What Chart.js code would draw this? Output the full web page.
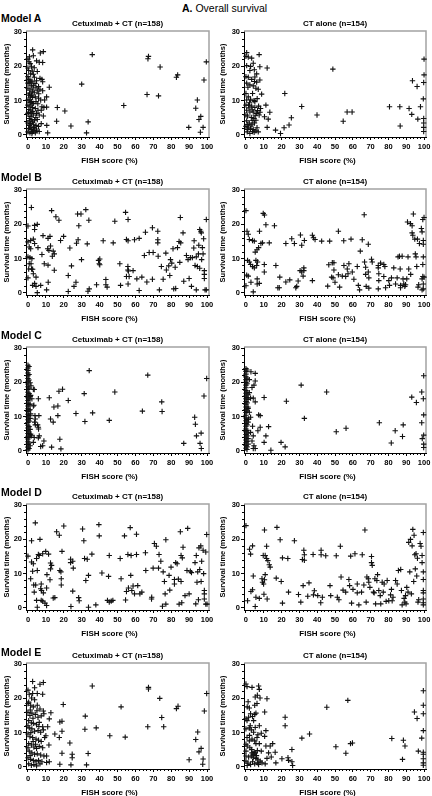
<!DOCTYPE html>
<html>
<head>
<meta charset="utf-8">
<script src="https://cdn.jsdelivr.net/npm/chart.js@4.4.1/dist/chart.umd.min.js"></script>
<style>
  body { margin: 0; background: #fff; }
  #page { position: relative; width: 432px; height: 796px; overflow: hidden; background: #fff;
          font-family: "Liberation Sans", Arial, Helvetica, sans-serif; color: #000; }
  .lbl { position: absolute; white-space: nowrap; }
  canvas { position: absolute; }
</style>
</head>
<body>
<div id="page">
  <div class="lbl" style="left:182px; top:2px; font-size:10.5px; line-height:12px;"><b>A.</b> Overall survival</div>
</div>
<script>
// Survival vs FISH score, 5 models x 2 arms

const modelNames = ["Model A", "Model B", "Model C", "Model D", "Model E"];
const armTitles = ["Cetuximab + CT (n=158)", "CT alone (n=154)"];
const xTitle = "FISH score (%)";
const yTitle = "Survival time (months)";

// [FISH score, survival months]
const aCet = [
  [2.6,24.8],[6.9,23.9],[8.6,24.3],[3.0,23.1],[4.8,21.6],[6.3,21.2],[8.2,21.1],[0,22.1],[0.6,21.3],[2.0,19.9],
  [3.5,19.6],[0.4,18.8],[1.5,17.8],[3.0,17.7],[0,17.0],[1.1,16.0],[2.2,15.7],[4.8,15.8],[6.7,16.5],[7.8,16.2],
  [8.2,15.5],[0.7,15.1],[1.9,14.3],[3.0,14.5],[4.5,13.9],[5.9,14.1],[0,13.6],[1.1,13.1],[2.4,12.6],[3.5,12.3],
  [5.2,12.9],[6.7,13.3],[8.2,12.9],[0.4,11.6],[1.5,11.1],[2.6,10.9],[4.1,11.1],[5.9,10.7],[7.1,10.2],[0.7,10.2],
  [1.9,9.7],[3.0,9.2],[4.5,9.7],[0,8.7],[1.1,8.4],[2.6,8.0],[4.1,7.7],[5.6,7.2],[7.4,7.2],[8.9,8.0],
  [0.4,6.5],[1.9,6.3],[3.0,5.8],[4.8,6.3],[6.3,5.8],[0.7,4.8],[2.2,4.5],[3.7,4.3],[5.2,4.5],[0,3.5],
  [1.5,3.3],[3.0,3.1],[4.5,2.8],[5.9,2.5],[7.4,3.3],[0.4,1.9],[1.9,1.6],[3.0,1.2],[4.8,1.4],[6.3,1.0],
  [1.1,0.6],[2.2,0.4],[4.1,0.6],[0,0.9],[1.5,2.3],[3.3,2.2],[0,6.3],[0,10.2],[0,15.1],[0,19.5],
  [8.6,5.5],[7.8,8.2],[5.2,18.5],[9.3,10.2],[0.8,22.8],[1.2,20.8],[2.4,18.6],[0.2,16.2],[1.6,15.4],[2.8,13.4],
  [0.9,12.2],[2.0,11.6],[1.3,9.5],[2.2,9.0],[0.5,7.4],[1.6,7.2],[2.6,6.8],[1.2,5.4],[2.5,3.8],[0.8,2.8],
  [2.6,0.9],[3.8,1.8],[4.4,5.1],[5.5,9.1],[6.0,12.0],[3.9,15.0],[3.6,16.8],[1.0,4.1],
  [16.4,8.0],[20.6,7.0],[16,4],[24,2.6],[30,14.8],[32.7,0.6],[33.6,3.8],[35.9,23.4],[53.5,8.6],[67,22.2],
  [67.3,22.9],[66.5,11.8],[72.9,11.4],[73.8,19.8],[82.9,16.8],[83.6,17.5],[89.8,2.2],[93.7,7.8],[94.6,10.2],[95.5,4.5],
  [96.5,5.4],[96.3,0.8],[97.8,2.2],[98.3,16],[99.6,21.3],[11.9,13.9],[10.4,11.1],[11,0.6],[10.5,2.8],[10.4,8.1]
];
const aCt = [
  [0.4,24.0],[7.4,23.4],[11.9,19.5],[7.8,19.9],[48.8,19.2],[93.5,15.8],[96.1,14.1],[100,22.1],[100,17.5],[99.8,15.3],
  [99.6,10.5],[98,8.2],[96.5,4.6],[99.8,4.8],[99.8,3.5],[99.8,2.2],[99.8,1.0],[93.1,6.0],[91.6,7.7],[86.4,8.2],
  [80.6,8.2],[86.6,2.6],[59.6,6.7],[56.8,6.7],[54.6,4.0],[39.9,5.8],[31.3,8.3],[25.5,5.0],[24.2,2.9],[21.4,2.1],
  [19.4,0.4],[16.6,1.4],[21.8,12.1],[13.4,6.6],[12.5,4.6],[11.9,2.2],[10.4,5.3],[11.2,8.7],[8.8,11.9],
  [0,22.9],[1.3,22.7],[3.2,22.4],[4.1,20.9],[0.4,20.2],[2.2,18.8],[4.7,19.0],[6,17.8],[1.3,16.8],[3.2,16.2],
  [4.8,15.6],[6,15.4],[7.8,16.0],[0.4,15.1],[2.2,14.6],[4.1,14.3],[5.6,13.6],[1.3,11.1],[0.4,10.2],[2.6,10.4],
  [4.5,10.0],[1.5,8.7],[3.2,8.4],[5,8.0],[7.1,8.4],[8.2,7.7],[0.4,7.2],[2.2,6.7],[4.1,6.7],[6,6.3],
  [7.4,5.8],[0.9,5.5],[3,5.1],[4.5,4.8],[5.6,4.3],[0.4,4.1],[1.9,3.5],[3.4,3.1],[4.8,3.5],[0,2.5],
  [1.3,2.1],[2.6,1.8],[4.1,1.6],[5.6,1.2],[6.9,0.9],[0.7,0.9],[2.2,0.4],[3.7,1.0],[0,5.8],[0,8.7],
  [0,12.1],[0,17.0],[5,9.7],[6.3,10.6],[3.7,12.1],[6.9,13.3],[1.7,7.9],[1.0,3.0],[2.8,2.6],[3.9,4.2],
  [5.2,5.6],[2.0,9.4],[3.5,7.3],[1.1,13.9],[5.0,16.9],[2.6,20.0],[6.5,7.1],[7.9,6.6],[0.8,1.6],[4.6,0.8],[6.2,2.1]
];
const bCet = [
  [1.9,24.9],[0,19.5],[3.7,19.7],[5.2,20.0],[3.7,18.5],[0,14.9],[1.5,15.3],[3.0,15.7],[0.7,13.4],[1.5,12.9],
  [3.7,14.4],[5.6,13.2],[8.4,16.7],[11.2,15.9],[12.3,16.5],[11,12.9],[11.7,12.4],[12.6,13.7],[14.1,12.2],[14.7,11.4],
  [13.6,10.7],[7.8,11.2],[0,10.5],[1.1,10.3],[2.2,10.0],[0.7,8.5],[1.7,8.5],[0.4,7.0],[2,7.0],[2.6,6.9],
  [3,5.6],[4.5,4.6],[3.7,2.8],[2.6,2.2],[4.5,1.9],[5.2,0.1],[7.1,2.2],[9.1,8.5],[11.2,8.1],[10.4,0.9],
  [11.3,3.1],[14.7,6.6],[13.2,24.0],[15.6,22.2],[17.3,21.2],[19.9,16.5],[18.2,15.3],[22.5,5.1],[22.5,0.4],[23.4,13.1],
  [24.3,7.9],[25.7,1.9],[26.8,3.1],[27.1,14.5],[28,15.5],[27.7,23.0],[29.6,23.0],[28.4,19.6],[29.9,9.7],[32.3,24.3],
  [33.1,14.3],[34,21.2],[33.5,0.5],[34.2,1.2],[38.3,2.4],[39.4,9.5],[39.8,8.5],[40.1,9.9],[40.1,8.2],[42,15.2],
  [43.5,3.9],[43.5,2.4],[44.2,1.7],[47.6,14.6],[48.5,20.9],[51.3,8.5],[51.7,2.2],[54.5,23.5],[55,15.6],[55.9,15.2],
  [55.9,21.4],[55,4.8],[56.5,4.8],[55.8,6.7],[55.8,7.7],[56.1,6.4],[55.9,2.6],[58.7,6.5],[59.5,15.5],[60.8,4.1],
  [62.1,15.9],[62.1,0.7],[63.6,4.6],[65,10.9],[65.6,17.7],[66.4,3.2],[67.7,11.8],[69.9,11.8],[69.5,19.0],[69.5,4.0],
  [72.5,18.0],[72.5,15.5],[72.5,14.6],[72.7,10.7],[73.4,0.9],[74.5,7.7],[75.5,4.0],[77,11.6],[77.3,6.7],[78.6,7.9],
  [79.2,5.1],[79.6,9.7],[80.3,8.7],[81.4,1.2],[82.5,1.3],[81,12.9],[82.2,7.5],[83.5,13.2],[84.4,15.0],[85.3,14.6],
  [84.8,8.9],[85.1,22.0],[86.6,17.5],[87,3.4],[88.5,10.9],[89.4,9.7],[90,4.2],[90.7,10.3],[91.3,1.9],[91.8,10.3],
  [92.6,13.1],[92.8,15.2],[93.3,8.0],[94,0.9],[94.6,7.7],[95.2,11.4],[94,10.5],[95.4,13.9],[95.9,18.5],[96.5,18.0],
  [96.8,17.5],[95.9,7.2],[97,9.7],[97.4,13.2],[97.8,11.4],[98.1,15.8],[98.5,6.5],[98.5,5.4],[98.5,4.2],[98.9,0.9],
  [99.6,0.9],[99.6,21.4],[0,4.4]
];
const bCt = [
  [0,24.0],[0.6,18.0],[1.3,17.1],[1.9,15.6],[3.7,15.3],[4.7,15.1],[0,2.1],[0.4,5.2],[1.3,4.9],[0.9,9.5],
  [1.9,9.0],[2.6,8.3],[3.7,7.7],[4.7,7.3],[2.8,3.1],[4.1,0.3],[5.2,11.9],[6.2,12.6],[7.1,13.2],[5.6,9.5],
  [6.5,9.0],[6.0,8.0],[6.3,4.1],[6.3,2.6],[7.5,2.8],[7.6,18.0],[8.4,14.4],[9.3,14.6],[10.3,8.3],[10.3,6.1],
  [9.7,23.2],[10.4,22.7],[11.2,19.9],[13.1,14.6],[16,19.6],[16.8,8.0],[17.9,1.5],[18.7,1.5],[19,4.6],[22.4,14.4],
  [22.4,3.2],[24.6,3.8],[25.7,15.8],[27.2,14.4],[28,1.5],[28.5,1.9],[29.3,3.5],[30.4,6.5],[31.3,6.1],[30.6,16.9],
  [31.3,13.9],[32.8,15.3],[32.5,7.3],[32.5,6.5],[32.1,4.9],[37.3,16.8],[37.9,16.1],[37.3,3.6],[38.8,15.6],[42.5,15.1],
  [45.9,2.0],[46.5,8.2],[47,15.1],[48.1,4.6],[48.9,4.4],[48.5,8.8],[49.4,8.8],[49.4,6.7],[50,3.1],[51.9,18.0],
  [51.9,5.3],[52.6,1.7],[54.1,4.9],[54.9,15.2],[55,8.0],[56,4.8],[56.9,7.0],[57.3,5.6],[57.8,8.5],[59,15.7],
  [59.7,6.1],[60.6,4.0],[62.5,7.7],[63.1,2.2],[63.8,0.9],[64.2,12.2],[65.3,15.5],[66.4,22.8],[66.6,9.0],[67.2,7.5],
  [67.2,5.4],[67.5,1.9],[68.7,14.2],[68.7,6.1],[69,1.4],[69,4.4],[70.5,9.8],[70.9,9.0],[74.3,8.0],[74.3,7.3],
  [74.6,5.6],[74.6,3.6],[74.3,1.2],[75.6,8.7],[77.4,8.3],[78,7.7],[77.4,4.8],[78.4,1.5],[80.2,3.6],[80.6,2.2],
  [81.7,4.4],[83,7.3],[84,2.6],[84.9,4.4],[85.4,10.5],[86.2,10.7],[86.6,7.0],[86.8,2.2],[86.8,1.5],[87.7,10.7],
  [88.2,4.1],[88.6,2.6],[89.6,2.4],[89.2,1.9],[90.3,4.1],[90.7,20.7],[92.4,20.2],[91,10.5],[91.4,7.0],[92.5,5.4],
  [93.3,17.5],[93.7,16.8],[94,23.0],[93.3,19.6],[94.8,15.7],[95.1,11.4],[95.5,10.5],[95.9,7.7],[96.3,15.7],[96.6,1.7],
  [97,2.4],[97.4,14.4],[98.5,18.8],[98.9,17.8],[99.3,21.4],[100,22.0],[99.6,15.3],[99.6,14.2],[99.6,10.5],[99.3,8.3],
  [99.3,4.8],[100,4.6],[98.9,4.1],[99.6,2.6],[99.6,1.2],[98.9,0.9]
];
const cCet = [
  [0,25.0],[0,24.2],[0,23.5],[0,22.7],[0,21.9],[0,21.1],[0,20.3],[0,19.5],[0,18.7],[0,17.9],
  [0,17.1],[0,16.3],[0,15.5],[0,14.7],[0,13.9],[0,13.1],[0,12.3],[0,11.5],[0,10.7],[0,9.9],
  [0,9.1],[0,8.3],[0,7.5],[0,6.7],[0,5.9],[0,5.1],[0,4.3],[0,3.5],[0,2.7],[0,1.9],[0,1.1],[0,0.3],
  [0.6,24.6],[0.6,22.3],[0.6,20.7],[0.6,18.3],[0.6,16.7],[0.6,15.1],[0.6,13.5],[0.6,11.9],[0.6,10.3],[0.6,8.7],
  [0.6,7.1],[0.6,5.5],[0.6,3.9],[0.6,2.3],[0.6,0.7],
  [1.2,19.9],[1.2,15.9],[1.2,13.7],[1.2,12.0],[1.2,9.5],[1.2,6.3],[1.2,4.7],[1.2,1.5],
  [1.7,19.0],[3,18.0],[3.5,17.9],[1.5,16.2],[2.2,15.2],[3,13.1],[3.3,13.3],[1.5,10.8],[3.9,10.3],[4.1,9.3],
  [3.7,8.4],[4.1,7.6],[3.5,3.9],[3,2.5],[1.9,4.4],[1.5,4.9],[6.1,10.3],[5.8,15.2],[5.4,7.6],[5.8,6.9],
  [5.9,6.4],[6.3,4.4],[5.8,3.8],[7.1,1.3],[8.2,1.5],[8.9,2.9],[11.9,15.5],[12.6,9.3],[13.2,1.1],[14.1,8.4],
  [14.5,12.8],[16.7,13.1],[16.7,10.3],[17.3,17.4],[17.8,3.4],[18.4,0.6],[19.3,18.0],[22.5,14.7],[26.8,10.9],[31.4,16.7],
  [31.8,8.6],[34.2,23.4],[36.1,11.1],[45.4,8.9],[48.5,17.2],[63.9,11.6],[66.9,22.1],[74.7,14.3],[74.9,11.5],[87,2.2],
  [93.1,9.8],[93.5,7.8],[94.1,4.4],[96.1,2.2],[96.7,5.2],[96.8,0.7],[98.3,16.0],[99.8,21.1]
];
const cCt = [
  [0,24.0],[0,23.2],[0,22.4],[0,21.6],[0,20.8],[0,20.0],[0,19.2],[0,18.4],[0,17.6],[0,16.8],
  [0,16.0],[0,15.2],[0,14.4],[0,13.6],[0,12.8],[0,12.0],[0,11.2],[0,10.4],[0,9.6],[0,8.8],
  [0,8.0],[0,7.2],[0,6.4],[0,5.6],[0,4.8],[0,4.0],[0,3.2],[0,2.4],[0,1.6],[0,0.8],
  [0.6,23.6],[0.6,21.2],[0.6,19.6],[0.6,17.2],[0.6,15.6],[0.6,14.0],[0.6,11.6],[0.6,9.2],[0.6,7.6],[0.6,6.0],
  [0.6,4.4],[0.6,2.8],[0.6,1.2],[0.6,0.4],
  [1.2,16.4],[1.2,15.0],[1.2,12.4],[1.2,8.4],[1.2,5.2],[1.2,3.6],[1.2,2.0],
  [1.9,20.8],[2.8,23.1],[4.5,19.2],[5.2,22.6],[5.2,20.4],[3.4,18.5],[1.9,17.0],[2.6,15.4],[4.1,15.4],[5.2,14.3],
  [1.1,12.8],[1.9,11.3],[2.6,9.8],[1.5,9.3],[7.1,10.5],[8,10.3],[8,6.9],[6.7,5.9],[3.7,7.2],[2.6,5.4],
  [4.1,4.4],[3.4,2.9],[4.5,1.5],[4.1,0.7],[5.2,0.7],[10.2,15.6],[10.2,2.5],[11.2,4.4],[12.7,7.1],[14,0.2],
  [19.7,2.5],[22,1.2],[22.7,14.5],[31,19.2],[32.8,9.5],[45.3,17.2],[50.7,5.6],[56.2,6.6],[74.9,8.2],[81.6,2.3],
  [83.8,5.9],[87.9,4.2],[88.3,7.6],[93.1,15.7],[95.7,14.1],[98.7,17.2],[98.7,8.2],[99,3.6],[99.6,15.2],[99.8,21.9],
  [99.8,10.5],[99.8,4.6],[99.8,2.0],[99.8,1.0]
];
const dCet = [
  [0,15.1],[2,19.6],[2,13.4],[3,12.9],[2.6,10.7],[1.5,8.5],[3.2,6.7],[4.3,6.7],[3.5,4.6],[4.1,24.8],
  [4.8,2.2],[4.8,14.4],[5.8,15.6],[6.3,15.3],[5.2,0.2],[5.2,10.9],[6.7,20.0],[7.4,7.0],[7.1,5.6],[7.6,5.1],
  [7.4,2.2],[8.2,2.0],[8.2,15.8],[8.6,4.4],[9.5,1.4],[9.9,16.5],[10.4,5.8],[10.6,9.7],[10.4,0.7],[11.5,15.7],
  [12.3,8.2],[12.6,13.1],[13.2,12.4],[12.6,11.4],[14.1,2.9],[15,3.0],[16,22.2],[17.5,21.2],[17.8,10.9],[18.4,10.5],
  [18.6,6.7],[19,16.5],[18.6,8.5],[20,23.9],[23.8,14.2],[23.8,13.2],[25,13.6],[24,0.4],[25,4.9],[25.3,11.6],
  [28.3,3.0],[28.6,2.1],[30.5,23.0],[31.2,19.6],[31.6,14.4],[33.1,14.2],[32.3,8.0],[33.8,9.5],[33.8,0.2],[35.7,15.7],
  [37.9,0.9],[39.6,24.3],[39.8,21.0],[41.3,10.2],[44.4,2.2],[45.4,1.7],[46.5,2.0],[45.4,15.3],[45,9.2],[47.4,2.2],
  [51.5,14.4],[52,8.5],[53.9,21.0],[54.5,2.3],[55,4.8],[55.8,15.6],[56.1,5.8],[57.1,23.4],[57.4,9.5],[57.6,15.3],
  [58,5.1],[58.7,6.4],[59.5,4.1],[60.6,15.6],[60.6,21.5],[61.3,6.5],[62.5,4.1],[63.6,4.6],[65.6,16.1],[65.8,10.9],
  [69,2.6],[69.1,3.1],[69.9,11.6],[70.6,18.8],[71.7,18.0],[72.9,11.6],[73.2,15.6],[74.2,13.6],[75.1,0.5],[75.5,10.5],
  [76.2,7.7],[76.6,4.1],[77,19.9],[77,1.1],[78.8,9.5],[79.2,5.2],[79.9,11.9],[81.8,8.3],[81.8,7.0],[82.5,13.2],
  [83.3,12.9],[84,8.4],[84.4,1.1],[85.1,22.2],[85.5,15.3],[86.2,14.6],[85.5,7.7],[85.9,1.5],[86.6,17.7],[87.7,3.6],
  [88.8,10.9],[89.2,23.2],[90,4.1],[90.7,10.7],[91.3,10.3],[93.3,13.2],[93.7,1.2],[94,15.3],[94.4,7.5],[94.8,10.5],
  [95.2,2.4],[95.5,17.5],[96.5,18.1],[95.9,11.2],[96.7,7.7],[97,13.6],[97.8,16.8],[98.1,10.0],[98.5,5.1],[98.5,4.1],
  [98.5,2.6],[99.3,16.3],[99.3,1.1],[100,1.1],[99.8,21.4]
];
const dCt = [
  [0,24.0],[0.9,2.1],[2,17.1],[2.6,15.7],[3.7,18.1],[2.8,4.8],[3.7,5.3],[4.1,9.3],[5.2,0.4],[5.6,3.1],
  [7.5,2.8],[9,8.5],[9.3,7.5],[9.9,7.0],[10.4,8.2],[9.7,15.3],[10.8,15.3],[10.4,22.7],[10.8,9.7],[10.1,4.0],
  [11.6,18.0],[11.6,14.4],[12.3,13.8],[13.1,12.6],[13.6,11.9],[11.9,2.6],[17.4,23.5],[17,8.7],[19.2,19.9],[19.8,7.7],
  [20.5,1.4],[20.5,14.6],[23.5,14.4],[23.9,4.6],[27.2,19.6],[29.5,3.9],[30.8,1.7],[31.7,14.1],[32.8,13.9],[32.5,16.8],
  [32.8,15.5],[32.1,6.5],[34.7,3.4],[35.4,7.3],[37.7,15.6],[38.4,5.0],[37.9,3.8],[40.3,3.6],[42,1.5],[42.2,16.8],
  [42.2,15.5],[42.9,3.1],[44.8,15.2],[47.2,6.5],[47.6,3.6],[50.7,15.2],[51.3,3.1],[52.2,2.4],[53,18.0],[53.4,9.0],
  [54.5,5.2],[56,4.6],[57.8,8.3],[58.2,6.5],[58.8,15.1],[59.3,1.4],[60.1,5.4],[61.2,15.8],[62.5,4.4],[62.5,7.0],
  [63.4,0.9],[65.3,15.5],[64.9,4.6],[66.2,6.7],[66.8,22.7],[67.5,1.7],[67.9,9.0],[68.7,8.5],[69,7.5],[69.6,6.0],
  [70.5,15.0],[70.5,13.2],[70.9,12.4],[71.6,4.6],[72,4.4],[72.4,8.5],[72.8,1.2],[73.5,8.0],[73.9,9.7],[74.6,5.1],
  [75.4,3.6],[75.7,1.2],[76.5,7.5],[77.1,4.6],[77.6,7.0],[78.7,1.9],[79.3,8.0],[80.2,2.1],[81.2,3.8],[81.7,5.4],
  [82.1,2.1],[82.6,3.1],[84,8.0],[84.9,7.0],[85.6,10.9],[86.9,11.2],[87.3,5.1],[87.7,0.9],[88.8,2.8],[89.2,1.7],
  [89.6,3.6],[89.9,1.2],[90.3,6.0],[91,4.6],[91.4,19.1],[92,10.5],[92.4,20.0],[92.9,4.1],[93.3,18.1],[93.7,22.9],
  [94.4,21.2],[94.2,7.7],[94.8,15.5],[95.1,11.4],[95.5,15.8],[95.9,9.3],[96.3,14.5],[96.6,1.7],[97,2.4],[97.8,18.8],
  [98.3,18.0],[98.9,15.3],[98.9,13.2],[99.6,22.0],[99.6,10.5],[99.6,8.3],[99.6,5.1],[99.6,4.4],[99.6,2.6],[99.6,1.5],
  [99.6,0.9]
];
const eCet = [
  [2.6,24.9],[3.7,23.1],[2.6,21.4],[6.7,24.1],[8.6,24.6],[8.2,21.2],[5.2,21.4],[0,22.4],[0.7,21.2],[2,20.1],
  [3.7,19.6],[0.4,18.9],[1.5,18.0],[3,17.5],[5.2,18.0],[6.7,16.9],[8.6,16.3],[0,15.9],[1.1,15.0],[2.2,15.7],
  [4.1,15.3],[5.6,14.5],[7.4,14.9],[8.9,15.5],[0.4,13.5],[1.9,12.9],[3,12.7],[4.8,12.3],[6.3,13.0],[8.2,11.7],
  [0.7,11.4],[2.2,11.1],[3.7,10.4],[5.6,10.6],[7.1,10.1],[8.6,10.8],[10,9.1],[0,9.6],[1.1,8.8],[2.6,8.6],
  [4.5,8.1],[5.9,7.8],[7.4,7.4],[9.3,8.6],[0.4,6.8],[1.9,6.4],[3.3,5.8],[4.8,5.4],[6.3,6.0],[8.2,5.6],
  [0.7,4.6],[2.2,4.1],[3.7,3.7],[5.2,3.8],[7.1,3.5],[8.9,3.2],[0,2.7],[1.5,2.2],[3,1.9],[4.5,1.5],
  [5.9,1.9],[7.8,1.5],[0.4,0.9],[1.9,0.5],[3.3,0.7],[4.8,0.3],[6.7,0.9],[0,5.6],[0,12.0],[0,18.5],
  [1.3,16.6],[2.8,14.2],[1.6,10.0],[2.9,7.4],[1.2,3.3],[4.2,6.6],[6.1,11.8],[5.0,16.4],
  [17.8,13.1],[19,13.3],[17.5,8.6],[19,10.4],[19.7,18.2],[19,4.0],[17.8,0.8],[23.4,7.0],[24.7,3.7],[24.7,2.7],
  [24,0.6],[32,14.8],[31.8,11.0],[32.7,0.6],[33.6,3.9],[35.9,23.6],[38.1,11.4],[45.7,9.1],[52,17.5],[54.3,8.7],
  [67.3,22.7],[67.3,23.2],[66.9,11.7],[73.6,20.0],[74.7,14.4],[75.8,11.7],[82.9,17.0],[83.8,17.7],[90,2.1],[93.7,8.0],
  [94.8,10.2],[95.5,4.4],[96.7,5.4],[97.8,2.3],[97.6,0.8],[98.5,16.3],[99.8,21.4],[15,9.6],[12.8,15.8],[11.9,14.0],
  [11,11.7],[11.7,6.4],[11.9,1.5],[10.4,1.3],[10.4,3.2]
];
const eCt = [
  [22,14.5],[22,12.0],[23.6,2.7],[23.9,1.9],[25.8,1.5],[25.8,5.1],[26.2,0.4],[20.2,2.4],[16.8,1.2],[14.2,2.9],
  [16.4,4.3],[15,6.8],[13.6,6.1],[12.7,4.1],[11.2,6.1],[10.8,0.9],[11.8,2.5],[10.5,8.9],[11.2,10.6],[11.8,19.9],
  [10.5,16.0],[31.4,8.4],[35.7,9.6],[45.4,17.4],[50.5,5.9],[56.1,4.0],[57.2,19.4],[58.7,6.8],[59.8,7.0],[81.9,8.3],
  [87.9,2.2],[88.4,7.8],[89.3,6.1],[94.6,16.0],[96.1,14.1],[96.8,4.6],[98.7,8.4],[99.6,22.2],[99.6,18.0],[99.6,15.5],
  [99.6,10.6],[99.6,4.3],[99.6,3.7],[99.6,2.4],[99.6,1.2],[99.6,0.5],
  [0,24.2],[0.6,23.4],[3.4,23.2],[7.1,23.6],[7.5,22.6],[6.4,20.9],[5.2,20.4],[7.9,20.1],[0.7,17.5],[1.9,17.2],
  [2.6,15.5],[3.7,14.7],[4.9,15.3],[5.6,15.7],[6.2,18.5],[4.9,18.0],[1.5,14.5],[0.6,13.5],[1.9,11.4],[3,10.8],
  [4.3,10.1],[5.2,11.5],[7.5,12.0],[8.6,9.8],[6.7,9.4],[0.6,8.6],[1.9,7.6],[3.4,8.1],[4.9,7.6],[6.2,8.6],
  [5.6,6.8],[7.5,6.8],[0.7,6.1],[2.2,5.6],[3.4,4.1],[4.5,3.7],[5.2,4.1],[6.4,4.8],[8.6,4.6],[0,3.2],
  [1.5,2.9],[3,3.2],[4.1,2.7],[5.6,2.5],[6.7,2.1],[8,1.7],[9,1.2],[0,1.7],[1.1,1.1],[0.7,0.4],
  [2.6,0.7],[3.7,1.5],[4.9,0.9],[6.4,1.2],[7.1,0.7],[0,11.1],[0,14.0],[0,6.6],[0,4.6],[2.4,12.0],
  [4.3,13.5],[3.9,3.5],[4.6,4.4],[3.2,5.1],[5.9,3.3],[2.0,9.2],[1.2,19.0]
];

const panelData = [[aCet, aCt], [bCet, bCt], [cCet, cCt], [dCet, dCt], [eCet, eCt]];

// placement on the page
const canvasTops = [0, 158, 316, 473, 632];
const modelLabelY = [18, 177, 335, 492, 652];
const fontFamily = "'Liberation Sans', Arial, Helvetica, sans-serif";

Chart.defaults.font.family = fontFamily;
Chart.defaults.color = "#000";

const page = document.getElementById("page");

// gray top/right frame + minor ticks
const framePlugin = {
  id: "frame",
  beforeDatasetsDraw(chart) {
    const { ctx, chartArea: a, scales: { x, y } } = chart;
    ctx.save();
    ctx.strokeStyle = "#a3a3a3";
    ctx.lineWidth = 1.5;
    ctx.beginPath();
    ctx.moveTo(a.left, a.top);
    ctx.lineTo(a.right, a.top);
    ctx.lineTo(a.right, a.bottom);
    ctx.stroke();

    ctx.strokeStyle = "#000";
    ctx.lineWidth = 1;
    ctx.beginPath();
    for (let v = 2; v < 100; v += 2) {
      if (v % 10 === 0) continue;
      const px = Math.round(x.getPixelForValue(v)) + 0.5;
      ctx.moveTo(px, a.bottom);
      ctx.lineTo(px, a.bottom + 2);
    }
    for (let v = 2; v < 30; v += 2) {
      if (v % 10 === 0) continue;
      const py = Math.round(y.getPixelForValue(v)) + 0.5;
      ctx.moveTo(a.left, py);
      ctx.lineTo(a.left - 2, py);
    }
    ctx.stroke();
    ctx.restore();
  }
};

function addLabel(text, left, top, css) {
  const el = document.createElement("div");
  el.className = "lbl";
  el.textContent = text;
  el.style.left = left + "px";
  el.style.top = top + "px";
  el.style.cssText += css;
  page.appendChild(el);
}

function makePanel(row, col, points) {
  const canvas = document.createElement("canvas");
  canvas.width = 216;
  canvas.height = 168;
  canvas.style.left = (col * 216) + "px";
  canvas.style.top = canvasTops[row] + "px";
  page.appendChild(canvas);

  const yWidth = col === 0 ? 26 : 28;
  const rightPad = col === 0 ? 7 : 6;
  const tickFont = { family: fontFamily, size: 7.5, weight: "bold" };

  new Chart(canvas, {
    type: "scatter",
    data: {
      datasets: [{
        data: points.map(p => ({ x: p[0], y: p[1] })),
        pointStyle: "cross",
        pointRadius: 2.7,
        borderColor: "#111",
        backgroundColor: "#111",
        borderWidth: 1.1,
        clip: false
      }]
    },
    options: {
      responsive: false,
      animation: false,
      devicePixelRatio: 1,
      events: [],
      layout: { padding: { left: 0, right: rightPad, top: 0, bottom: 0 } },
      scales: {
        x: {
          type: "linear",
          min: -1.1,
          max: 101.1,
          afterFit: s => { s.height = 31; s.paddingLeft = 0; s.paddingRight = 0; },
          ticks: { stepSize: 10, includeBounds: false, autoSkip: false, maxRotation: 0, padding: 2, color: "#000", font: tickFont },
          grid: { drawOnChartArea: false, tickLength: 3, color: "#000" },
          border: { display: true, color: "#000", width: 1 }
        },
        y: {
          type: "linear",
          min: -0.6,
          max: 30.3,
          afterFit: s => { s.width = yWidth; s.paddingTop = 0; s.paddingBottom = 0; },
          ticks: { stepSize: 10, includeBounds: false, padding: 1, color: "#000", font: tickFont },
          grid: { drawOnChartArea: false, tickLength: 3, color: "#000" },
          border: { display: true, color: "#000", width: 1 },
          title: {
            display: true,
            text: yTitle,
            color: "#000",
            font: { family: fontFamily, size: 7.5, weight: "bold" },
            padding: { top: 2.3, bottom: 0 }
          }
        }
      },
      plugins: {
        legend: { display: false },
        tooltip: { enabled: false },
        title: {
          display: true,
          text: armTitles[col],
          fullSize: false,
          color: "#000",
          font: { family: fontFamily, size: 8, weight: "bold" },
          padding: { top: 19.2, bottom: 2.2 }
        }
      }
    },
    plugins: [framePlugin]
  });

  // x axis title sits a little left of the plot centre
  const cx = col === 0 ? 109.5 : 327.5;
  addLabel(xTitle, cx - 50, canvasTops[row] + 156,
    "width:100px;text-align:center;font-size:8px;font-weight:bold;line-height:10px;");
}

modelNames.forEach((name, row) => {
  addLabel(name, 1, modelLabelY[row] - 6, "font-size:10.5px;font-weight:bold;line-height:12px;");
  makePanel(row, 0, panelData[row][0]);
  makePanel(row, 1, panelData[row][1]);
});
</script>
</body>
</html>
